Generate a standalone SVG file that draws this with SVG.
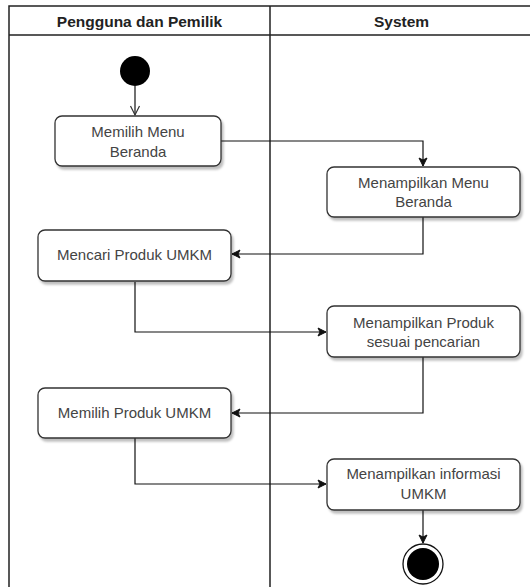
<svg xmlns="http://www.w3.org/2000/svg" width="530" height="587" viewBox="0 0 530 587">
<style>
.lane{fill:none;stroke:#222;stroke-width:1.5}
.box{fill:#fff;stroke:#333;stroke-width:1.3;filter:url(#sh)}
.t{font-family:"Liberation Sans",Arial,sans-serif;font-size:15px;fill:#444;text-anchor:middle}
.h{font-family:"Liberation Sans",Arial,sans-serif;font-size:15.5px;font-weight:bold;fill:#222;text-anchor:middle}
.c{fill:none;stroke:#111;stroke-width:1.2}
</style>
<defs>
<filter id="sh" x="-10%" y="-10%" width="130%" height="140%">
<feDropShadow dx="2" dy="3" stdDeviation="1" flood-color="#000" flood-opacity="0.25"/>
</filter>
<marker id="a" markerWidth="10" markerHeight="10" refX="9" refY="5" orient="auto" markerUnits="userSpaceOnUse">
<path d="M1,1 L9,5 L1,9 L3,5 Z" fill="#111" stroke="#111" stroke-width="1"/>
</marker>
<marker id="o" markerWidth="12" markerHeight="12" refX="10" refY="6" orient="auto" markerUnits="userSpaceOnUse">
<path d="M1,1.5 L10,6 L1,10.5" fill="none" stroke="#333" stroke-width="1.2"/>
</marker>
</defs>
<g id="swimlanes">
<path class="lane" d="M9,600 V6 H540 M9,35 H540 M270,6 V600"/>
<text class="h" x="139.5" y="27">Pengguna dan Pemilik</text>
<text class="h" x="401.5" y="27">System</text>
</g>
<g id="connectors">
<path class="c" d="M135,86 V115" marker-end="url(#o)"/>
<path class="c" d="M221,141 H423 V166" marker-end="url(#a)"/>
<path class="c" d="M423,217 V254 H232" marker-end="url(#a)"/>
<path class="c" d="M135,282 V332 H326" marker-end="url(#a)"/>
<path class="c" d="M423,357 V413 H232" marker-end="url(#a)"/>
<path class="c" d="M135,438 V484 H326" marker-end="url(#a)"/>
<path class="c" d="M423,510 V543" marker-end="url(#a)"/>
</g>
<g id="start"><circle cx="135" cy="71" r="15" fill="#000"/></g>
<g id="n1"><rect class="box" x="55" y="116" width="166" height="50" rx="7"/>
<text class="t" x="138" y="137">Memilih Menu</text><text class="t" x="138" y="157">Beranda</text></g>
<g id="n2"><rect class="box" x="327" y="167" width="193" height="50" rx="7"/>
<text class="t" x="423.5" y="188">Menampilkan Menu</text><text class="t" x="423.5" y="207">Beranda</text></g>
<g id="n3"><rect class="box" x="38" y="230" width="193" height="51" rx="7"/>
<text class="t" x="134.5" y="260">Mencari Produk UMKM</text></g>
<g id="n4"><rect class="box" x="327" y="306" width="193" height="51" rx="7"/>
<text class="t" x="423.5" y="328">Menampilkan Produk</text><text class="t" x="423.5" y="347">sesuai pencarian</text></g>
<g id="n5"><rect class="box" x="38" y="388" width="193" height="50" rx="7"/>
<text class="t" x="134.5" y="418">Memilih Produk UMKM</text></g>
<g id="n6"><rect class="box" x="327" y="459" width="193" height="51" rx="7"/>
<text class="t" x="423.5" y="479">Menampilkan informasi</text><text class="t" x="423.5" y="499">UMKM</text></g>
<g id="end"><circle cx="423" cy="564" r="20" fill="#fff" stroke="#111" stroke-width="1.3"/><circle cx="423" cy="564" r="16" fill="#000"/></g>
</svg>
